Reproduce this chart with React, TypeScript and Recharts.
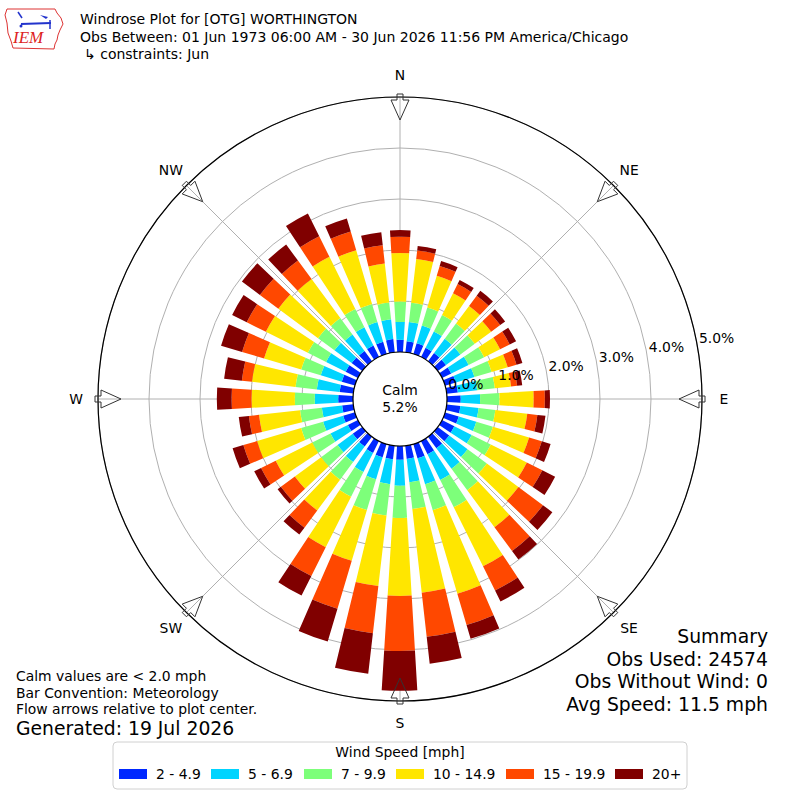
import React from "react";
import {
  RadialBarChart, RadialBar, PolarAngleAxis, PolarRadiusAxis, PolarGrid,
} from "recharts";

// wind direction (degrees, meteorological) of each bar
const directions = [
  0, 10, 20, 30, 40, 50, 60, 70, 80, 90, 100, 110, 120, 130, 140, 150, 160, 170,
  180, 190, 200, 210, 220, 230, 240, 250, 260, 270, 280, 290, 300, 310, 320, 330, 340, 350,
];

const speedBins = ["2 - 4.9", "5 - 6.9", "7 - 9.9", "10 - 14.9", "15 - 19.9", "20+"];
const binColors = ["#0028ff", "#00d4ff", "#7dff7a", "#ffe600", "#ff4800", "#800000"];

// frequency (%) per direction for each speed bin
const speed2to5 = [
  0.24, 0.22, 0.22, 0.20, 0.20, 0.20, 0.20, 0.22, 0.22, 0.27, 0.27, 0.28,
  0.27, 0.28, 0.28, 0.29, 0.29, 0.26, 0.27, 0.27, 0.27, 0.26, 0.24, 0.23,
  0.22, 0.24, 0.22, 0.29, 0.27, 0.27, 0.27, 0.26, 0.25, 0.25, 0.25, 0.26,
];
const speed5to7 = [
  0.35, 0.38, 0.36, 0.36, 0.35, 0.35, 0.38, 0.38, 0.38, 0.38, 0.36, 0.36,
  0.38, 0.45, 0.50, 0.56, 0.53, 0.46, 0.51, 0.49, 0.45, 0.42, 0.38, 0.37,
  0.38, 0.41, 0.40, 0.46, 0.45, 0.43, 0.43, 0.42, 0.40, 0.40, 0.40, 0.39,
];
const speed7to10 = [
  0.40, 0.38, 0.37, 0.36, 0.37, 0.35, 0.34, 0.35, 0.35, 0.38, 0.33, 0.34,
  0.42, 0.47, 0.52, 0.60, 0.53, 0.53, 0.63, 0.62, 0.63, 0.54, 0.43, 0.40,
  0.40, 0.45, 0.43, 0.39, 0.42, 0.40, 0.40, 0.40, 0.40, 0.40, 0.37, 0.33,
];
const speed10to15 = [
  0.95, 0.86, 0.65, 0.48, 0.43, 0.40, 0.35, 0.33, 0.32, 0.67, 0.63, 0.74,
  0.79, 0.77, 0.90, 1.29, 1.71, 1.65, 1.53, 1.39, 1.04, 1.11, 0.75, 0.64,
  0.80, 0.90, 0.81, 0.85, 0.86, 0.76, 0.92, 0.97, 0.95, 1.14, 1.10, 0.77,
];
const speed15to20 = [
  0.32, 0.17, 0.20, 0.20, 0.25, 0.22, 0.21, 0.18, 0.12, 0.22, 0.20, 0.26,
  0.34, 0.60, 0.58, 0.53, 0.64, 0.87, 1.08, 0.93, 0.98, 0.63, 0.42, 0.34,
  0.32, 0.28, 0.20, 0.39, 0.20, 0.45, 0.42, 0.45, 0.45, 0.45, 0.38, 0.36,
];
const speed20plus = [
  0.13, 0.09, 0.10, 0.09, 0.12, 0.12, 0.14, 0.12, 0.10, 0.10, 0.16, 0.18,
  0.28, 0.23, 0.21, 0.24, 0.28, 0.53, 0.78, 0.80, 0.67, 0.43, 0.17, 0.08,
  0.15, 0.22, 0.20, 0.29, 0.35, 0.43, 0.32, 0.44, 0.39, 0.50, 0.27, 0.26,
];

const series = [speed2to5, speed5to7, speed7to10, speed10to15, speed15to20, speed20plus];

const radiusTicks = [0, 1, 2, 3, 4, 5];
const compassTicks = [0, 45, 90, 135, 180, 225, 270, 315];
const compassNames = ["N", "NE", "E", "SE", "S", "SW", "W", "NW"];

const calmPct = "5.2%";
const summaryLines = ["Summary", "Obs Used: 24574", "Obs Without Wind: 0", "Avg Speed: 11.5 mph"];
const noteLines = ["Calm values are < 2.0 mph", "Bar Convention: Meteorology", "Flow arrows relative to plot center."];

const data = directions.map((d, i) => {
  const row: Record<string, number> = { dir: d };
  series.forEach((s, k) => { row["s" + k] = s[i]; });
  return row;
});

const CX = 400;
const CY = 399;
const R_IN = 47;
const R_OUT = 302;
const FONT = "DejaVu Sans, Verdana, sans-serif";

// compass bearing -> recharts angle (0 = east, counter-clockwise)
const toChartAngle = (bearing: number) => 90 - bearing;

function CompassArrow({ bearing, name }: { bearing: number; name: string }) {
  const a = (toChartAngle(bearing) * Math.PI) / 180;
  const ux = Math.cos(a);
  const uy = -Math.sin(a);
  const nx = -uy;
  const ny = ux;
  const pt = (s: number, t: number) =>
    `${CX + (R_OUT + s) * ux + t * nx},${CY + (R_OUT + s) * uy + t * ny}`;
  const pts = [
    pt(3, -3), pt(3, 3), pt(-3, 3), pt(-3, 9), pt(-23, 0), pt(-3, -9), pt(-3, -3),
  ].join(" ");
  return (
    <g>
      <polygon points={pts} fill="none" stroke="#333" strokeWidth={1} />
      <text
        x={CX + (R_OUT + 22) * ux}
        y={CY + (R_OUT + 22) * uy}
        textAnchor="middle"
        dominantBaseline="central"
        fontSize={13.9}
        fill="#000"
      >
        {name}
      </text>
    </g>
  );
}

function RadiusTick(props: any) {
  const { x, y, payload } = props;
  return (
    <text x={x + 2} y={y - 1} textAnchor="start" fontSize={13.9} fontFamily={FONT} fill="#000">
      {Number(payload.value).toFixed(1)}%
    </text>
  );
}

function Logo() {
  return (
    <g>
      <path
        d="M7 9 L55 9 L57 13 L61 18 L63 24 L60 30 L58 35 L57 40 L55 44 L54 49 L13 48 L11 41 L8 33 L7 23 L5 15 Z"
        fill="none"
        stroke="#d33"
        strokeWidth={1}
      />
      <line x1={21} y1={24} x2={51} y2={23} stroke="#2233cc" strokeWidth={2} />
      <line x1={18} y1={12} x2={22} y2={18} stroke="#2233cc" strokeWidth={1.5} />
      <polygon points="40,15 48,17 46,19" fill="#2233cc" />
      <line x1={50} y1={20} x2={50} y2={29} stroke="#2233cc" strokeWidth={1.5} />
      <circle cx={21} cy={26} r={1.5} fill="#2233cc" />
      <text x={13} y={43} fontSize={17} fontStyle="italic" fontFamily="Liberation Serif, serif" fill="#d22">
        IEM
      </text>
    </g>
  );
}

export default function App() {
  return (
    <div style={{ position: "absolute", left: 0, top: 0, width: 800, height: 800, background: "#fff" }}>
      <RadialBarChart
        width={800}
        height={800}
        cx={CX}
        cy={CY}
        innerRadius={R_IN}
        outerRadius={R_OUT}
        startAngle={85}
        endAngle={-275}
        layout="centric"
        data={data}
        barCategoryGap="14%"
        margin={{ top: 0, right: 0, bottom: 0, left: 0 }}
      >
        <PolarGrid
          gridType="circle"
          stroke="#b0b0b0"
          polarAngles={compassTicks.map(toChartAngle)}
        />
        {series.map((_, k) => (
          <RadialBar
            key={k}
            dataKey={"s" + k}
            name={speedBins[k]}
            stackId="wind"
            fill={binColors[k]}
            stroke="none"
            isAnimationActive={false}
          />
        ))}
        <PolarAngleAxis
          dataKey="dir"
          type="category"
          tick={false}
          tickLine={false}
          axisLineType="circle"
          axisLine={{ stroke: "#000", strokeWidth: 1.2 }}
        />
        <PolarRadiusAxis
          type="number"
          domain={[0, 5]}
          ticks={radiusTicks}
          angle={10.5}
          axisLine={false}
          tickLine={false}
          tick={(p: any) => <RadiusTick {...p} />}
        />
      </RadialBarChart>

      <svg
        width={800}
        height={800}
        style={{ position: "absolute", left: 0, top: 0, pointerEvents: "none" }}
        fontFamily={FONT}
      >
        <Logo />
        <text x={80} y={24} fontSize={14}>Windrose Plot for [OTG] WORTHINGTON</text>
        <text x={80} y={42} fontSize={14}>Obs Between: 01 Jun 1973 06:00 AM - 30 Jun 2026 11:56 PM America/Chicago</text>
        <text x={84} y={59} fontSize={14}>↳ constraints: Jun</text>

        {compassTicks.map((b, i) => (
          <CompassArrow key={b} bearing={b} name={compassNames[i]} />
        ))}

        <circle cx={CX} cy={CY} r={R_IN} fill="#fff" stroke="#000" strokeWidth={1.2} />
        <text x={CX} y={390} textAnchor="middle" dominantBaseline="central" fontSize={13.9}>Calm</text>
        <text x={CX} y={407} textAnchor="middle" dominantBaseline="central" fontSize={13.9}>{calmPct}</text>

        {summaryLines.map((t, i) => (
          <text key={t} x={768} y={643 + i * 22.7} textAnchor="end" fontSize={18.8}>{t}</text>
        ))}
        {noteLines.map((t, i) => (
          <text key={t} x={16} y={681 + i * 16.5} fontSize={13.9}>{t}</text>
        ))}
        <text x={16} y={735} fontSize={18.8}>Generated: 19 Jul 2026</text>

        <rect x={113} y={742} width={574} height={47} rx={4} fill="#fff" stroke="#d0d0d0" />
        <text x={400} y={752} textAnchor="middle" dominantBaseline="central" fontSize={13.9}>Wind Speed [mph]</text>
        {speedBins.map((b, i) => {
          const x0 = [119, 211, 304, 396, 506, 615][i];
          return (
            <g key={b}>
              <rect x={x0} y={769} width={28} height={10} fill={binColors[i]} />
              <text x={x0 + 37} y={774} dominantBaseline="central" fontSize={13.9}>{b}</text>
            </g>
          );
        })}
      </svg>
    </div>
  );
}
